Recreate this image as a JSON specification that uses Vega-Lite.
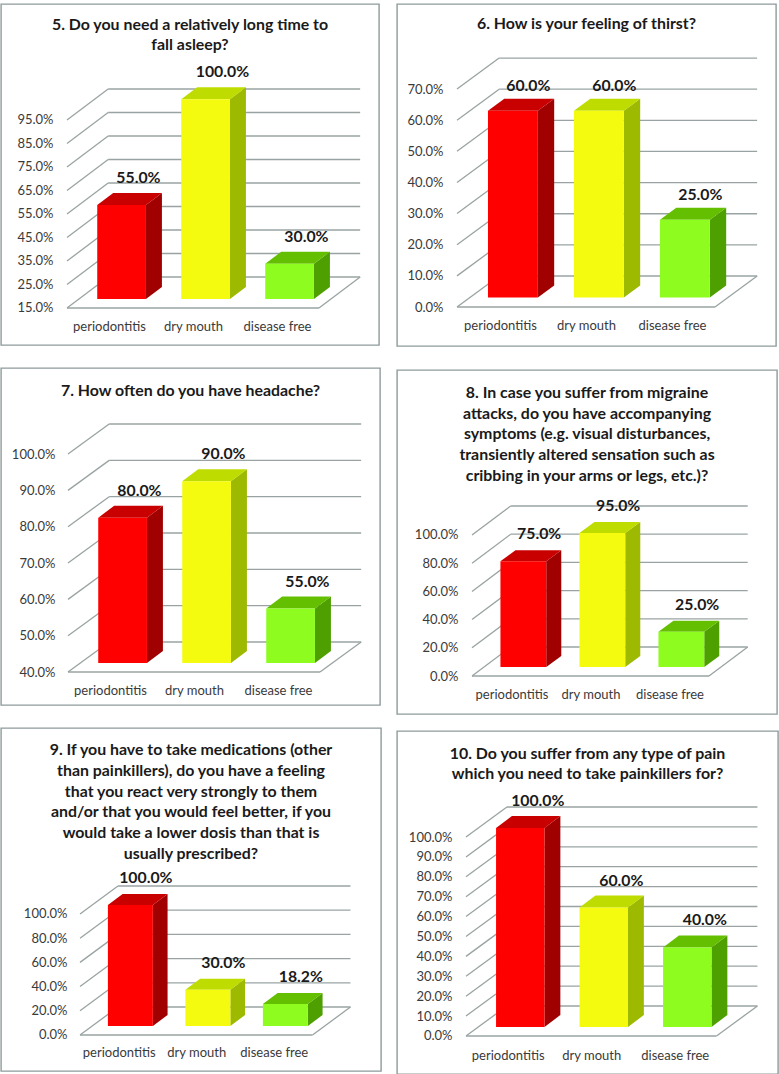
{"$schema":"https://vega.github.io/schema/vega-lite/v6.json","background":"white","padding":{"left":0,"top":3,"right":0,"bottom":0},"autosize":{"type":"pad"},
"config":{"view":{"stroke":"#8f9b9b","strokeWidth":1.4},"legend":{"disable":true},"font":"Lato","concat":{"spacing":0},"axis":{"domain":false,"ticks":false,"grid":false,"tickSize":0,"labelPadding":0,"labelFont":"Lato","labelFontSize":13,"labelColor":"#3a3a3a","labelOverlap":false,"title":null},"title":{"font":"Lato","fontWeight":"bold","fontSize":15.9,"color":"#1a1a1a","anchor":"middle","frame":"group"}},
"datasets":{
"q5":[{"category":"periodontitis","value":0.55},{"category":"dry mouth","value":1.0},{"category":"disease free","value":0.30}],
"q6":[{"category":"periodontitis","value":0.60},{"category":"dry mouth","value":0.60},{"category":"disease free","value":0.25}],
"q7":[{"category":"periodontitis","value":0.80},{"category":"dry mouth","value":0.90},{"category":"disease free","value":0.55}],
"q8":[{"category":"periodontitis","value":0.75},{"category":"dry mouth","value":0.95},{"category":"disease free","value":0.25}],
"q9":[{"category":"periodontitis","value":1.0},{"category":"dry mouth","value":0.30},{"category":"disease free","value":0.182}],
"q10":[{"category":"periodontitis","value":1.0},{"category":"dry mouth","value":0.60},{"category":"disease free","value":0.40}],
"t5":[{"tick":0.15},{"tick":0.25},{"tick":0.35},{"tick":0.45},{"tick":0.55},{"tick":0.65},{"tick":0.75},{"tick":0.85},{"tick":0.95}],
"t6":[{"tick":0},{"tick":0.1},{"tick":0.2},{"tick":0.3},{"tick":0.4},{"tick":0.5},{"tick":0.6},{"tick":0.7}],
"t7":[{"tick":0.4},{"tick":0.5},{"tick":0.6},{"tick":0.7},{"tick":0.8},{"tick":0.9},{"tick":1.0}],
"t8":[{"tick":0},{"tick":0.2},{"tick":0.4},{"tick":0.6},{"tick":0.8},{"tick":1.0}],
"t9":[{"tick":0},{"tick":0.2},{"tick":0.4},{"tick":0.6},{"tick":0.8},{"tick":1.0}],
"t10":[{"tick":0},{"tick":0.1},{"tick":0.2},{"tick":0.3},{"tick":0.4},{"tick":0.5},{"tick":0.6},{"tick":0.7},{"tick":0.8},{"tick":0.9},{"tick":1.0}]
},
"hconcat":[
{"vconcat":[
{"width":378,"height":341,"title":{"text":["5. Do you need a relatively long time to","fall asleep?"],"offset":-49,"lineHeight":20},
"layer":[
{"data":{"name":"t5"},"transform":[{"calculate":"datum.tick+0.1319","as":"backY"}],"layer":[
{"mark":{"type":"rule","color":"#9aa3a3","strokeWidth":1.3},"encoding":{"x":{"datum":-0.5,"type":"quantitative","scale":{"domain":[-1.2857,3.2143],"nice":false,"zero":false},"axis":{"title":null,"values":[0,1,2],"labelExpr":"['periodontitis','dry mouth','disease free'][datum.value]","offset":-19,"labelBaseline":"middle"}},"x2":{"datum":-0.01},"y":{"field":"tick","type":"quantitative","scale":{"domain":[-0.00745,1.4436],"nice":false,"zero":false},"axis":{"title":null,"values":[0.15,0.25,0.35,0.45,0.55,0.65,0.75,0.85,0.95],"tickCount":20,"format":".1%","offset":-52}},"y2":{"field":"backY"}}},
{"mark":{"type":"rule","color":"#9aa3a3","strokeWidth":1.3},"encoding":{"x":{"datum":-0.01,"type":"quantitative"},"x2":{"datum":2.99},"y":{"field":"backY","type":"quantitative"}}},
{"transform":[{"filter":"datum.tick==0.15"}],"layer":[
{"mark":{"type":"rule","color":"#9aa3a3","strokeWidth":1.3},"encoding":{"x":{"datum":-0.5,"type":"quantitative"},"x2":{"datum":2.5},"y":{"field":"tick","type":"quantitative"}}},
{"mark":{"type":"rule","color":"#9aa3a3","strokeWidth":1.3},"encoding":{"x":{"datum":2.5,"type":"quantitative"},"x2":{"datum":2.99},"y":{"field":"tick","type":"quantitative"},"y2":{"field":"backY"}}}
]}
]},
{"data":{"name":"q5"},"transform":[{"calculate":"indexof(['periodontitis','dry mouth','disease free'],datum.category)","as":"slot"},{"calculate":"datum.slot-0.14","as":"xl"},{"calculate":"datum.slot+0.44","as":"xr"},{"calculate":"datum.slot+0.35","as":"lx"},{"calculate":"datum.value+0.0383","as":"yf"},{"calculate":"0.15+0.0383","as":"yb"}],"layer":[
{"transform":[{"calculate":"[0,1]","as":"t"},{"flatten":["t"]},{"calculate":"datum.xr+datum.t*0.19","as":"sx"},{"calculate":"datum.yf+datum.t*0.0511","as":"sy"},{"calculate":"datum.yb+datum.t*0.0511","as":"sy2"},{"calculate":"datum.category+' side'","as":"face"}],"mark":{"type":"area","orient":"vertical"},"encoding":{"x":{"field":"sx","type":"quantitative"},"y":{"field":"sy","type":"quantitative"},"y2":{"field":"sy2"},"detail":{"field":"category"},"fill":{"field":"face","type":"nominal","scale":{"domain":["periodontitis front","periodontitis top","periodontitis side","dry mouth front","dry mouth top","dry mouth side","disease free front","disease free top","disease free side"],"range":["#ff0000","#c80000","#a00000","#f4fb0e","#bfdc00","#9db900","#8ffc20","#63bf00","#4da000"]}}}},
{"transform":[{"calculate":"[0,1]","as":"t"},{"flatten":["t"]},{"calculate":"datum.xl+datum.t*0.19","as":"tx"},{"calculate":"datum.xr+datum.t*0.19","as":"tx2"},{"calculate":"datum.yf+datum.t*0.0511","as":"ty"},{"calculate":"datum.category+' top'","as":"face"}],"mark":{"type":"area","orient":"horizontal"},"encoding":{"y":{"field":"ty","type":"quantitative"},"x":{"field":"tx","type":"quantitative"},"x2":{"field":"tx2"},"detail":{"field":"category"},"fill":{"field":"face","type":"nominal"}}},
{"transform":[{"calculate":"datum.category+' front'","as":"face"}],"mark":{"type":"bar"},"encoding":{"x":{"field":"xl","type":"quantitative"},"x2":{"field":"xr"},"y":{"field":"yf","type":"quantitative"},"y2":{"field":"yb"},"fill":{"field":"face","type":"nominal"}}},
{"mark":{"type":"text","fontWeight":"bold","fontSize":15.8,"dy":-27,"color":"#1a1a1a"},"encoding":{"x":{"field":"lx","type":"quantitative"},"y":{"field":"yf","type":"quantitative"},"text":{"field":"value","type":"quantitative","format":".1%"}}}
]}
]},
{"width":379,"height":337,"title":{"text":["7. How often do you have headache?"],"offset":-31,"lineHeight":20},
"layer":[
{"data":{"name":"t7"},"transform":[{"calculate":"datum.tick+0.0826","as":"backY"}],"layer":[
{"mark":{"type":"rule","color":"#9aa3a3","strokeWidth":1.3},"encoding":{"x":{"datum":-0.5,"type":"quantitative","scale":{"domain":[-1.2976,3.2143],"nice":false,"zero":false},"axis":{"title":null,"values":[0,1,2],"labelExpr":"['periodontitis','dry mouth','disease free'][datum.value]","offset":-15,"labelBaseline":"middle"}},"x2":{"datum":-0.01},"y":{"field":"tick","type":"quantitative","scale":{"domain":[0.3092,1.2368],"nice":false,"zero":false},"axis":{"title":null,"values":[0.4,0.5,0.6,0.7,0.8,0.9,1.0],"tickCount":20,"format":".1%","offset":-54}},"y2":{"field":"backY"}}},
{"mark":{"type":"rule","color":"#9aa3a3","strokeWidth":1.3},"encoding":{"x":{"datum":-0.01,"type":"quantitative"},"x2":{"datum":2.99},"y":{"field":"backY","type":"quantitative"}}},
{"transform":[{"filter":"datum.tick==0.4"}],"layer":[
{"mark":{"type":"rule","color":"#9aa3a3","strokeWidth":1.3},"encoding":{"x":{"datum":-0.5,"type":"quantitative"},"x2":{"datum":2.5},"y":{"field":"tick","type":"quantitative"}}},
{"mark":{"type":"rule","color":"#9aa3a3","strokeWidth":1.3},"encoding":{"x":{"datum":2.5,"type":"quantitative"},"x2":{"datum":2.99},"y":{"field":"tick","type":"quantitative"},"y2":{"field":"backY"}}}
]}
]},
{"data":{"name":"q7"},"transform":[{"calculate":"indexof(['periodontitis','dry mouth','disease free'],datum.category)","as":"slot"},{"calculate":"datum.slot-0.14","as":"xl"},{"calculate":"datum.slot+0.44","as":"xr"},{"calculate":"datum.slot+0.35","as":"lx"},{"calculate":"datum.value+0.0248","as":"yf"},{"calculate":"0.4+0.0248","as":"yb"}],"layer":[
{"transform":[{"calculate":"[0,1]","as":"t"},{"flatten":["t"]},{"calculate":"datum.xr+datum.t*0.19","as":"sx"},{"calculate":"datum.yf+datum.t*0.033","as":"sy"},{"calculate":"datum.yb+datum.t*0.033","as":"sy2"},{"calculate":"datum.category+' side'","as":"face"}],"mark":{"type":"area","orient":"vertical"},"encoding":{"x":{"field":"sx","type":"quantitative"},"y":{"field":"sy","type":"quantitative"},"y2":{"field":"sy2"},"detail":{"field":"category"},"fill":{"field":"face","type":"nominal","scale":{"domain":["periodontitis front","periodontitis top","periodontitis side","dry mouth front","dry mouth top","dry mouth side","disease free front","disease free top","disease free side"],"range":["#ff0000","#c80000","#a00000","#f4fb0e","#bfdc00","#9db900","#8ffc20","#63bf00","#4da000"]}}}},
{"transform":[{"calculate":"[0,1]","as":"t"},{"flatten":["t"]},{"calculate":"datum.xl+datum.t*0.19","as":"tx"},{"calculate":"datum.xr+datum.t*0.19","as":"tx2"},{"calculate":"datum.yf+datum.t*0.033","as":"ty"},{"calculate":"datum.category+' top'","as":"face"}],"mark":{"type":"area","orient":"horizontal"},"encoding":{"y":{"field":"ty","type":"quantitative"},"x":{"field":"tx","type":"quantitative"},"x2":{"field":"tx2"},"detail":{"field":"category"},"fill":{"field":"face","type":"nominal"}}},
{"transform":[{"calculate":"datum.category+' front'","as":"face"}],"mark":{"type":"bar"},"encoding":{"x":{"field":"xl","type":"quantitative"},"x2":{"field":"xr"},"y":{"field":"yf","type":"quantitative"},"y2":{"field":"yb"},"fill":{"field":"face","type":"nominal"}}},
{"mark":{"type":"text","fontWeight":"bold","fontSize":15.8,"dy":-27,"color":"#1a1a1a"},"encoding":{"x":{"field":"lx","type":"quantitative"},"y":{"field":"yf","type":"quantitative"},"text":{"field":"value","type":"quantitative","format":".1%"}}}
]}
]},
{"width":380,"height":343,"title":{"text":["9. If you have to take medications (other","than painkillers), do you have a feeling","that you react very strongly to them","and/or that you would feel better, if you","would take a lower dosis than that is","usually prescribed?"],"offset":-134,"lineHeight":20.8},
"layer":[
{"data":{"name":"t9"},"transform":[{"calculate":"datum.tick+0.2314","as":"backY"}],"layer":[
{"mark":{"type":"rule","color":"#9aa3a3","strokeWidth":1.3},"encoding":{"x":{"datum":-0.5,"type":"quantitative","scale":{"domain":[-1.5194,3.3839],"nice":false,"zero":false},"axis":{"title":null,"values":[0,1,2],"labelExpr":"['periodontitis','dry mouth','disease free'][datum.value]","offset":-19,"labelBaseline":"middle"}},"x2":{"datum":-0.01},"y":{"field":"tick","type":"quantitative","scale":{"domain":[-0.2975,2.537],"nice":false,"zero":false},"axis":{"title":null,"values":[0,0.2,0.4,0.6,0.8,1.0],"tickCount":20,"format":".1%","offset":-66}},"y2":{"field":"backY"}}},
{"mark":{"type":"rule","color":"#9aa3a3","strokeWidth":1.3},"encoding":{"x":{"datum":-0.01,"type":"quantitative"},"x2":{"datum":2.99},"y":{"field":"backY","type":"quantitative"}}},
{"transform":[{"filter":"datum.tick==0"}],"layer":[
{"mark":{"type":"rule","color":"#9aa3a3","strokeWidth":1.3},"encoding":{"x":{"datum":-0.5,"type":"quantitative"},"x2":{"datum":2.5},"y":{"field":"tick","type":"quantitative"}}},
{"mark":{"type":"rule","color":"#9aa3a3","strokeWidth":1.3},"encoding":{"x":{"datum":2.5,"type":"quantitative"},"x2":{"datum":2.99},"y":{"field":"tick","type":"quantitative"},"y2":{"field":"backY"}}}
]}
]},
{"data":{"name":"q9"},"transform":[{"calculate":"indexof(['periodontitis','dry mouth','disease free'],datum.category)","as":"slot"},{"calculate":"datum.slot-0.14","as":"xl"},{"calculate":"datum.slot+0.44","as":"xr"},{"calculate":"datum.slot+0.35","as":"lx"},{"calculate":"datum.value+0.0744","as":"yf"},{"calculate":"0+0.0744","as":"yb"}],"layer":[
{"transform":[{"calculate":"[0,1]","as":"t"},{"flatten":["t"]},{"calculate":"datum.xr+datum.t*0.19","as":"sx"},{"calculate":"datum.yf+datum.t*0.0909","as":"sy"},{"calculate":"datum.yb+datum.t*0.0909","as":"sy2"},{"calculate":"datum.category+' side'","as":"face"}],"mark":{"type":"area","orient":"vertical"},"encoding":{"x":{"field":"sx","type":"quantitative"},"y":{"field":"sy","type":"quantitative"},"y2":{"field":"sy2"},"detail":{"field":"category"},"fill":{"field":"face","type":"nominal","scale":{"domain":["periodontitis front","periodontitis top","periodontitis side","dry mouth front","dry mouth top","dry mouth side","disease free front","disease free top","disease free side"],"range":["#ff0000","#c80000","#a00000","#f4fb0e","#bfdc00","#9db900","#8ffc20","#63bf00","#4da000"]}}}},
{"transform":[{"calculate":"[0,1]","as":"t"},{"flatten":["t"]},{"calculate":"datum.xl+datum.t*0.19","as":"tx"},{"calculate":"datum.xr+datum.t*0.19","as":"tx2"},{"calculate":"datum.yf+datum.t*0.0909","as":"ty"},{"calculate":"datum.category+' top'","as":"face"}],"mark":{"type":"area","orient":"horizontal"},"encoding":{"y":{"field":"ty","type":"quantitative"},"x":{"field":"tx","type":"quantitative"},"x2":{"field":"tx2"},"detail":{"field":"category"},"fill":{"field":"face","type":"nominal"}}},
{"transform":[{"calculate":"datum.category+' front'","as":"face"}],"mark":{"type":"bar"},"encoding":{"x":{"field":"xl","type":"quantitative"},"x2":{"field":"xr"},"y":{"field":"yf","type":"quantitative"},"y2":{"field":"yb"},"fill":{"field":"face","type":"nominal"}}},
{"mark":{"type":"text","fontWeight":"bold","fontSize":15.8,"dy":-27,"color":"#1a1a1a"},"encoding":{"x":{"field":"lx","type":"quantitative"},"y":{"field":"yf","type":"quantitative"},"text":{"field":"value","type":"quantitative","format":".1%"}}}
]}
]}
],"spacing":21},
{"vconcat":[
{"vconcat":[
{"width":379,"height":342,"title":{"text":["6. How is your feeling of thirst?"],"offset":-28,"lineHeight":20},
"layer":[
{"data":{"name":"t6"},"transform":[{"calculate":"datum.tick+0.0995","as":"backY"}],"layer":[
{"mark":{"type":"rule","color":"#9aa3a3","strokeWidth":1.3},"encoding":{"x":{"datum":-0.5,"type":"quantitative","scale":{"domain":[-1.1977,3.2093],"nice":false,"zero":false},"axis":{"title":null,"values":[0,1,2],"labelExpr":"['periodontitis','dry mouth','disease free'][datum.value]","offset":-21,"labelBaseline":"middle"}},"x2":{"datum":-0.01},"y":{"field":"tick","type":"quantitative","scale":{"domain":[-0.1252,0.973],"nice":false,"zero":false},"axis":{"title":null,"values":[0,0.1,0.2,0.3,0.4,0.5,0.6,0.7],"tickCount":20,"format":".1%","offset":-46}},"y2":{"field":"backY"}}},
{"mark":{"type":"rule","color":"#9aa3a3","strokeWidth":1.3},"encoding":{"x":{"datum":-0.01,"type":"quantitative"},"x2":{"datum":2.99},"y":{"field":"backY","type":"quantitative"}}},
{"transform":[{"filter":"datum.tick==0"}],"layer":[
{"mark":{"type":"rule","color":"#9aa3a3","strokeWidth":1.3},"encoding":{"x":{"datum":-0.5,"type":"quantitative"},"x2":{"datum":2.5},"y":{"field":"tick","type":"quantitative"}}},
{"mark":{"type":"rule","color":"#9aa3a3","strokeWidth":1.3},"encoding":{"x":{"datum":2.5,"type":"quantitative"},"x2":{"datum":2.99},"y":{"field":"tick","type":"quantitative"},"y2":{"field":"backY"}}}
]}
]},
{"data":{"name":"q6"},"transform":[{"calculate":"indexof(['periodontitis','dry mouth','disease free'],datum.category)","as":"slot"},{"calculate":"datum.slot-0.14","as":"xl"},{"calculate":"datum.slot+0.44","as":"xr"},{"calculate":"datum.slot+0.33","as":"lx"},{"calculate":"datum.value+0.0305","as":"yf"},{"calculate":"0+0.0305","as":"yb"}],"layer":[
{"transform":[{"calculate":"[0,1]","as":"t"},{"flatten":["t"]},{"calculate":"datum.xr+datum.t*0.19","as":"sx"},{"calculate":"datum.yf+datum.t*0.0385","as":"sy"},{"calculate":"datum.yb+datum.t*0.0385","as":"sy2"},{"calculate":"datum.category+' side'","as":"face"}],"mark":{"type":"area","orient":"vertical"},"encoding":{"x":{"field":"sx","type":"quantitative"},"y":{"field":"sy","type":"quantitative"},"y2":{"field":"sy2"},"detail":{"field":"category"},"fill":{"field":"face","type":"nominal","scale":{"domain":["periodontitis front","periodontitis top","periodontitis side","dry mouth front","dry mouth top","dry mouth side","disease free front","disease free top","disease free side"],"range":["#ff0000","#c80000","#a00000","#f4fb0e","#bfdc00","#9db900","#8ffc20","#63bf00","#4da000"]}}}},
{"transform":[{"calculate":"[0,1]","as":"t"},{"flatten":["t"]},{"calculate":"datum.xl+datum.t*0.19","as":"tx"},{"calculate":"datum.xr+datum.t*0.19","as":"tx2"},{"calculate":"datum.yf+datum.t*0.0385","as":"ty"},{"calculate":"datum.category+' top'","as":"face"}],"mark":{"type":"area","orient":"horizontal"},"encoding":{"y":{"field":"ty","type":"quantitative"},"x":{"field":"tx","type":"quantitative"},"x2":{"field":"tx2"},"detail":{"field":"category"},"fill":{"field":"face","type":"nominal"}}},
{"transform":[{"calculate":"datum.category+' front'","as":"face"}],"mark":{"type":"bar"},"encoding":{"x":{"field":"xl","type":"quantitative"},"x2":{"field":"xr"},"y":{"field":"yf","type":"quantitative"},"y2":{"field":"yb"},"fill":{"field":"face","type":"nominal"}}},
{"mark":{"type":"text","fontWeight":"bold","fontSize":15.8,"dy":-25,"color":"#1a1a1a"},"encoding":{"x":{"field":"lx","type":"quantitative"},"y":{"field":"yf","type":"quantitative"},"text":{"field":"value","type":"quantitative","format":".1%"}}}
]}
]},
{"width":380,"height":344,"title":{"text":["8. In case you suffer from migraine","attacks, do you have accompanying","symptoms (e.g. visual disturbances,","transiently altered sensation such as","cribbing in your arms or legs, etc.)?"],"offset":-114,"lineHeight":20.8},
"layer":[
{"data":{"name":"t8"},"transform":[{"calculate":"datum.tick+0.2057","as":"backY"}],"layer":[
{"mark":{"type":"rule","color":"#9aa3a3","strokeWidth":1.3},"encoding":{"x":{"datum":-0.5,"type":"quantitative","scale":{"domain":[-1.4494,3.3608],"nice":false,"zero":false},"axis":{"title":null,"values":[0,1,2],"labelExpr":"['periodontitis','dry mouth','disease free'][datum.value]","offset":-20,"labelBaseline":"middle"}},"x2":{"datum":-0.01},"y":{"field":"tick","type":"quantitative","scale":{"domain":[-0.2695,2.1702],"nice":false,"zero":false},"axis":{"title":null,"values":[0,0.2,0.4,0.6,0.8,1.0],"tickCount":20,"format":".1%","offset":-61}},"y2":{"field":"backY"}}},
{"mark":{"type":"rule","color":"#9aa3a3","strokeWidth":1.3},"encoding":{"x":{"datum":-0.01,"type":"quantitative"},"x2":{"datum":2.99},"y":{"field":"backY","type":"quantitative"}}},
{"transform":[{"filter":"datum.tick==0"}],"layer":[
{"mark":{"type":"rule","color":"#9aa3a3","strokeWidth":1.3},"encoding":{"x":{"datum":-0.5,"type":"quantitative"},"x2":{"datum":2.5},"y":{"field":"tick","type":"quantitative"}}},
{"mark":{"type":"rule","color":"#9aa3a3","strokeWidth":1.3},"encoding":{"x":{"datum":2.5,"type":"quantitative"},"x2":{"datum":2.99},"y":{"field":"tick","type":"quantitative"},"y2":{"field":"backY"}}}
]}
]},
{"data":{"name":"q8"},"transform":[{"calculate":"indexof(['periodontitis','dry mouth','disease free'],datum.category)","as":"slot"},{"calculate":"datum.slot-0.14","as":"xl"},{"calculate":"datum.slot+0.44","as":"xr"},{"calculate":"datum.slot+0.35","as":"lx"},{"calculate":"datum.value+0.0638","as":"yf"},{"calculate":"0+0.0638","as":"yb"}],"layer":[
{"transform":[{"calculate":"[0,1]","as":"t"},{"flatten":["t"]},{"calculate":"datum.xr+datum.t*0.19","as":"sx"},{"calculate":"datum.yf+datum.t*0.078","as":"sy"},{"calculate":"datum.yb+datum.t*0.078","as":"sy2"},{"calculate":"datum.category+' side'","as":"face"}],"mark":{"type":"area","orient":"vertical"},"encoding":{"x":{"field":"sx","type":"quantitative"},"y":{"field":"sy","type":"quantitative"},"y2":{"field":"sy2"},"detail":{"field":"category"},"fill":{"field":"face","type":"nominal","scale":{"domain":["periodontitis front","periodontitis top","periodontitis side","dry mouth front","dry mouth top","dry mouth side","disease free front","disease free top","disease free side"],"range":["#ff0000","#c80000","#a00000","#f4fb0e","#bfdc00","#9db900","#8ffc20","#63bf00","#4da000"]}}}},
{"transform":[{"calculate":"[0,1]","as":"t"},{"flatten":["t"]},{"calculate":"datum.xl+datum.t*0.19","as":"tx"},{"calculate":"datum.xr+datum.t*0.19","as":"tx2"},{"calculate":"datum.yf+datum.t*0.078","as":"ty"},{"calculate":"datum.category+' top'","as":"face"}],"mark":{"type":"area","orient":"horizontal"},"encoding":{"y":{"field":"ty","type":"quantitative"},"x":{"field":"tx","type":"quantitative"},"x2":{"field":"tx2"},"detail":{"field":"category"},"fill":{"field":"face","type":"nominal"}}},
{"transform":[{"calculate":"datum.category+' front'","as":"face"}],"mark":{"type":"bar"},"encoding":{"x":{"field":"xl","type":"quantitative"},"x2":{"field":"xr"},"y":{"field":"yf","type":"quantitative"},"y2":{"field":"yb"},"fill":{"field":"face","type":"nominal"}}},
{"mark":{"type":"text","fontWeight":"bold","fontSize":15.8,"dy":-27,"color":"#1a1a1a"},"encoding":{"x":{"field":"lx","type":"quantitative"},"y":{"field":"yf","type":"quantitative"},"text":{"field":"value","type":"quantitative","format":".1%"}}}
]}
]}
],"spacing":22},
{"width":381,"height":343,"title":{"text":["10. Do you suffer from any type of pain","which you need to take painkillers for?"],"offset":-51,"lineHeight":20},
"layer":[
{"data":{"name":"t10"},"transform":[{"calculate":"datum.tick+0.1508","as":"backY"}],"layer":[
{"mark":{"type":"rule","color":"#9aa3a3","strokeWidth":1.3},"encoding":{"x":{"datum":-0.5,"type":"quantitative","scale":{"domain":[-1.3263,3.2365],"nice":false,"zero":false},"axis":{"title":null,"values":[0,1,2],"labelExpr":"['periodontitis','dry mouth','disease free'][datum.value]","offset":-19,"labelBaseline":"middle"}},"x2":{"datum":-0.01},"y":{"field":"tick","type":"quantitative","scale":{"domain":[-0.191,1.5327],"nice":false,"zero":false},"axis":{"title":null,"values":[0,0.1,0.2,0.3,0.4,0.5,0.6,0.7,0.8,0.9,1.0],"tickCount":20,"format":".1%","offset":-55}},"y2":{"field":"backY"}}},
{"mark":{"type":"rule","color":"#9aa3a3","strokeWidth":1.3},"encoding":{"x":{"datum":-0.01,"type":"quantitative"},"x2":{"datum":2.99},"y":{"field":"backY","type":"quantitative"}}},
{"transform":[{"filter":"datum.tick==0"}],"layer":[
{"mark":{"type":"rule","color":"#9aa3a3","strokeWidth":1.3},"encoding":{"x":{"datum":-0.5,"type":"quantitative"},"x2":{"datum":2.5},"y":{"field":"tick","type":"quantitative"}}},
{"mark":{"type":"rule","color":"#9aa3a3","strokeWidth":1.3},"encoding":{"x":{"datum":2.5,"type":"quantitative"},"x2":{"datum":2.99},"y":{"field":"tick","type":"quantitative"},"y2":{"field":"backY"}}}
]}
]},
{"data":{"name":"q10"},"transform":[{"calculate":"indexof(['periodontitis','dry mouth','disease free'],datum.category)","as":"slot"},{"calculate":"datum.slot-0.14","as":"xl"},{"calculate":"datum.slot+0.44","as":"xr"},{"calculate":"datum.slot+0.36","as":"lx"},{"calculate":"datum.value+0.0452","as":"yf"},{"calculate":"0+0.0452","as":"yb"}],"layer":[
{"transform":[{"calculate":"[0,1]","as":"t"},{"flatten":["t"]},{"calculate":"datum.xr+datum.t*0.19","as":"sx"},{"calculate":"datum.yf+datum.t*0.0603","as":"sy"},{"calculate":"datum.yb+datum.t*0.0603","as":"sy2"},{"calculate":"datum.category+' side'","as":"face"}],"mark":{"type":"area","orient":"vertical"},"encoding":{"x":{"field":"sx","type":"quantitative"},"y":{"field":"sy","type":"quantitative"},"y2":{"field":"sy2"},"detail":{"field":"category"},"fill":{"field":"face","type":"nominal","scale":{"domain":["periodontitis front","periodontitis top","periodontitis side","dry mouth front","dry mouth top","dry mouth side","disease free front","disease free top","disease free side"],"range":["#ff0000","#c80000","#a00000","#f4fb0e","#bfdc00","#9db900","#8ffc20","#63bf00","#4da000"]}}}},
{"transform":[{"calculate":"[0,1]","as":"t"},{"flatten":["t"]},{"calculate":"datum.xl+datum.t*0.19","as":"tx"},{"calculate":"datum.xr+datum.t*0.19","as":"tx2"},{"calculate":"datum.yf+datum.t*0.0603","as":"ty"},{"calculate":"datum.category+' top'","as":"face"}],"mark":{"type":"area","orient":"horizontal"},"encoding":{"y":{"field":"ty","type":"quantitative"},"x":{"field":"tx","type":"quantitative"},"x2":{"field":"tx2"},"detail":{"field":"category"},"fill":{"field":"face","type":"nominal"}}},
{"transform":[{"calculate":"datum.category+' front'","as":"face"}],"mark":{"type":"bar"},"encoding":{"x":{"field":"xl","type":"quantitative"},"x2":{"field":"xr"},"y":{"field":"yf","type":"quantitative"},"y2":{"field":"yb"},"fill":{"field":"face","type":"nominal"}}},
{"mark":{"type":"text","fontWeight":"bold","fontSize":15.8,"dy":-27,"color":"#1a1a1a"},"encoding":{"x":{"field":"lx","type":"quantitative"},"y":{"field":"yf","type":"quantitative"},"text":{"field":"value","type":"quantitative","format":".1%"}}}
]}
]}
],"spacing":15}
],"spacing":14}
